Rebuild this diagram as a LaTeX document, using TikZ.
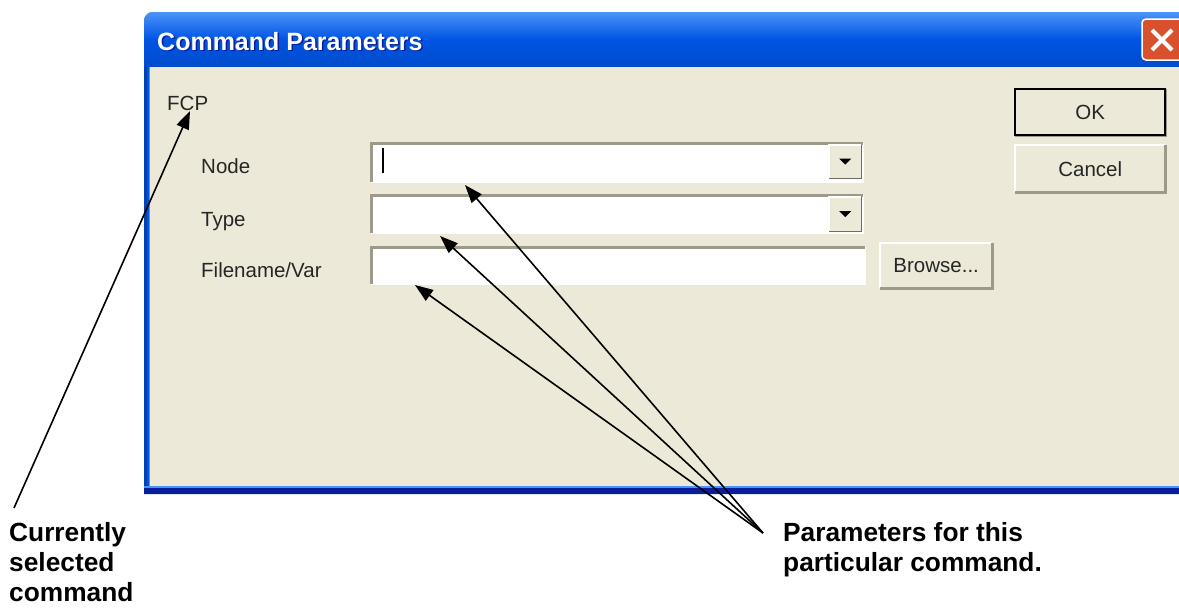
\documentclass[tikz,border=0pt]{standalone}
\usepackage{fontspec}
\setmainfont{Liberation Sans}
\usetikzlibrary{arrows.meta,positioning}

\definecolor{xpface}{HTML}{ECE9D8}
\definecolor{xpblue}{HTML}{0054E3}
\definecolor{xplight}{HTML}{4A94F8}
\definecolor{xpdark}{HTML}{0A1E9C}
\definecolor{xpshadow}{HTML}{9D9A8C}
\definecolor{xpdeep}{HTML}{716F64}
\definecolor{xpclose}{HTML}{D9502C}

\tikzset{
  dlgtext/.style={font=\fontsize{20.5}{24}\selectfont, text=black!85, inner sep=0pt},
  notetext/.style={font=\fontsize{26.3}{30}\selectfont\bfseries, align=left, inner sep=0pt},
  pointer/.style={line width=1.6pt, -{Triangle[length=18pt,width=13pt]}},
  field/.style={fill=white, inner sep=0pt, anchor=north west},
  raised/.style={fill=xpface, inner sep=0pt, anchor=north west, dlgtext},
}

\begin{document}
\begin{tikzpicture}[x=1pt,y=-1pt]
	\useasboundingbox[fill=white] (0,0) rectangle (1179,608);
	% window frame
	\begin{scope}
		\clip (0,0) rectangle (1179,608);
		\fill[xpblue] (144,494) [rounded corners=9pt] -- (144,12) -- (1200,12) [sharp corners] -- (1200,494) -- cycle;
		\shade[top color=xplight, bottom color=xpblue!90!black, middle color=xpblue] (144,67) [rounded corners=9pt] -- (144,12) -- (1200,12) [sharp corners] -- (1200,67) -- cycle;
		\fill[xpblue!80!black] (144,67) rectangle (147,494);
		\fill[xplight] (149,67) rectangle (150,487);
		\fill[xplight] (144,486) rectangle (1200,488);
		\fill[xpdark] (144,488) rectangle (1200,494);
		\fill[xpface] (150,67) rectangle (1200,486);
		% close button
		\draw[white, line width=1.5pt, fill=xpclose, rounded corners=4pt] (1142,19) rectangle (1196,60);
		\draw[white, line width=4pt] (1152,30) -- (1172,50) (1152,50) -- (1172,30);
	\end{scope}
	\node[anchor=base west, inner sep=0pt, font=\fontsize{25}{30}\selectfont\bfseries, text=xpdark] (titleshadow) at (158.5,51.5) {Command Parameters};
	\node[anchor=base west, inner sep=0pt, font=\fontsize{25}{30}\selectfont\bfseries, text=white] (title) at (157,50) {Command Parameters};

	% labels
	\node[dlgtext, anchor=base west] (fcp) at (167,110) {FCP};
	\node[dlgtext, anchor=base west] (nodelbl) at (201,173) {Node};
	\node[dlgtext, anchor=base west] (typelbl) at (201,226) {Type};
	\node[dlgtext, anchor=base west] (filelbl) at (201,277) {Filename/Var};

	% edit fields
	\node[field, minimum width=492pt, minimum height=39pt] (nodebox) at (371,143) {};
	\node[field, minimum width=492pt, minimum height=38pt] (typebox) at (371,195) {};
	\node[field, minimum width=494pt, minimum height=37pt] (filebox) at (371,247) {};
	\foreach \f in {nodebox,typebox,filebox}{
		\draw[white, line width=2pt] (\f.south west) -- (\f.south east) -- (\f.north east);
		\draw[xpshadow, line width=3pt] (\f.south west) -- (\f.north west) -- (\f.north east);
	}
	\draw[line width=1.3pt] (383,148) -- (383,173);
	\node[raised, minimum width=32pt, minimum height=33pt] (nodedrop) at (829,145) {};
	\node[raised, minimum width=32pt, minimum height=34pt] (typedrop) at (829,197) {};
	\foreach \d in {nodedrop,typedrop}{
		\draw[white, line width=1.5pt] (\d.south west) -- (\d.north west) -- (\d.north east);
		\draw[xpdeep, line width=1.5pt] (\d.south west) -- (\d.south east) -- (\d.north east);
		\fill (\d.center) ++(-6,-3) -- ++(12,0) -- ++(-6,6) -- cycle;
	}

	% buttons
	\node[raised, minimum width=150pt, minimum height=46pt] (okbtn) at (1015,89) {OK};
	\node[raised, minimum width=150pt, minimum height=47pt] (cancelbtn) at (1015,145) {Cancel};
	\node[raised, minimum width=112pt, minimum height=45pt] (browsebtn) at (880,243) {Browse...};
	\foreach \b in {okbtn,cancelbtn,browsebtn}{
		\draw[white, line width=2pt] (\b.south west) -- (\b.north west) -- (\b.north east);
		\draw[xpshadow, line width=2.5pt] (\b.south west) -- (\b.south east) -- (\b.north east);
	}
	\draw[line width=2pt] (okbtn.south west) rectangle (okbtn.north east);

	% notes
	\node[notetext, anchor=north west] (cmdnote) at (9,522) {Currently\\selected\\command};
	\node[notetext, anchor=north west] (parmnote) at (783,522) {Parameters for this\\particular command.};
	\coordinate (cmdtail) at (14,508);
	\coordinate (fcptip) at (190,111);
	\coordinate (parmtail) at (763,533);
	\coordinate (nodetip) at (465,185);
	\coordinate (typetip) at (440,236);
	\coordinate (filetip) at (415,285);
	\draw[pointer] (cmdtail) -- (fcptip);
	\foreach \t in {nodetip,typetip,filetip}
		\draw[pointer] (parmtail) -- (\t);
\end{tikzpicture}
\end{document}
